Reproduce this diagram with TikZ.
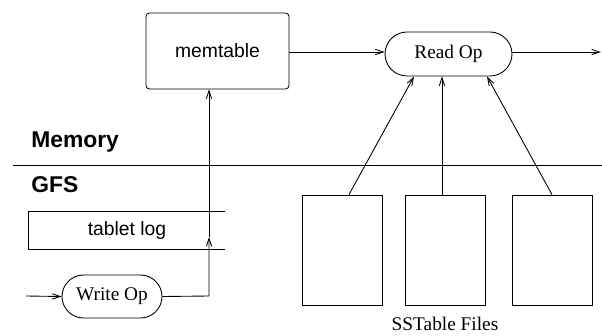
\documentclass[tikz,border=0pt]{standalone}
\usepackage{fontspec}
\setmainfont{Liberation Serif}
\setsansfont{Liberation Sans}
\usepackage{tikz}
\usetikzlibrary{arrows.meta, positioning, calc}

\begin{document}
\begin{tikzpicture}[
    x=0.02cm, y=-0.02cm,
    line width=0.5pt,
    arr/.style={-{Straight Barb[length=4.5pt, width=3pt]}},
    membox/.style={draw, rounded corners=2pt, minimum width=2.86cm, minimum height=1.52cm, font=\sffamily\fontsize{11}{13}\selectfont},
    opnode/.style={draw, rounded corners=0.44cm, minimum height=0.88cm, font=\fontsize{11}{13}\selectfont},
    filebox/.style={draw, minimum width=1.6cm, minimum height=2.2cm},
    layer/.style={anchor=west, font=\sffamily\bfseries\fontsize{13}{15}\selectfont}
]
    \useasboundingbox (0,0) rectangle (602,335);

    % Memory side
    \node[membox] (memtable) at (217.5,51) {memtable};
    \node[opnode, minimum width=2.54cm] (readop) at (448.5,54) {Read Op};
    \coordinate (readout) at (601,52);

    \draw[arr] (memtable.east |- 0,52) -- (readop.west |- 0,52);
    \draw[arr] (readop.east |- 0,52) -- (readout);

    % layer split
    \node[layer] (memlabel) at (25,142) {Memory};
    \node[layer] (gfslabel) at (25,185) {GFS};
    \coordinate (splitl) at (13,165);
    \coordinate (splitr) at (602,165);
    \draw (splitl) -- (splitr);

    % GFS side
    \node[minimum width=3.92cm, minimum height=0.74cm, font=\sffamily\fontsize{11}{13}\selectfont] (tablog) at (127,230.5) {tablet log};
    \draw (tablog.north east) -- (tablog.north west) -- (tablog.south west) -- (tablog.south east);

    \node[opnode, minimum width=2cm, rounded corners=0.43cm, minimum height=0.86cm] (writeop) at (112,296.5) {Write Op};
    \coordinate (writein) at (26,296);
    \coordinate (bend) at (209,296);
    \coordinate (login) at (209,237);

    \draw[arr] (writein) -- (writeop.west);
    \draw[arr] (writeop.east) -- (bend) -- (login);
    \draw[arr] (login) -- (login |- memtable.south);

    % SSTables
    \node[filebox] (sst1) at (342,250) {};
    \node[filebox] (sst2) at (445,250) {};
    \node[filebox] (sst3) at (552,250) {};
    \node[font=\fontsize{11}{13}\selectfont] (sstlabel) at (445,324) {SSTable Files};

    \draw[arr] ($(sst1.north)+(7,0)$) -- ($(readop.south)+(-34.5,0)$);
    \draw[arr] ($(sst2.north)+(-3,0)$) -- ($(readop.south)+(-6.5,0)$);
    \draw[arr] (sst3.north) -- ($(readop.south)+(38.5,0)$);
\end{tikzpicture}
\end{document}
